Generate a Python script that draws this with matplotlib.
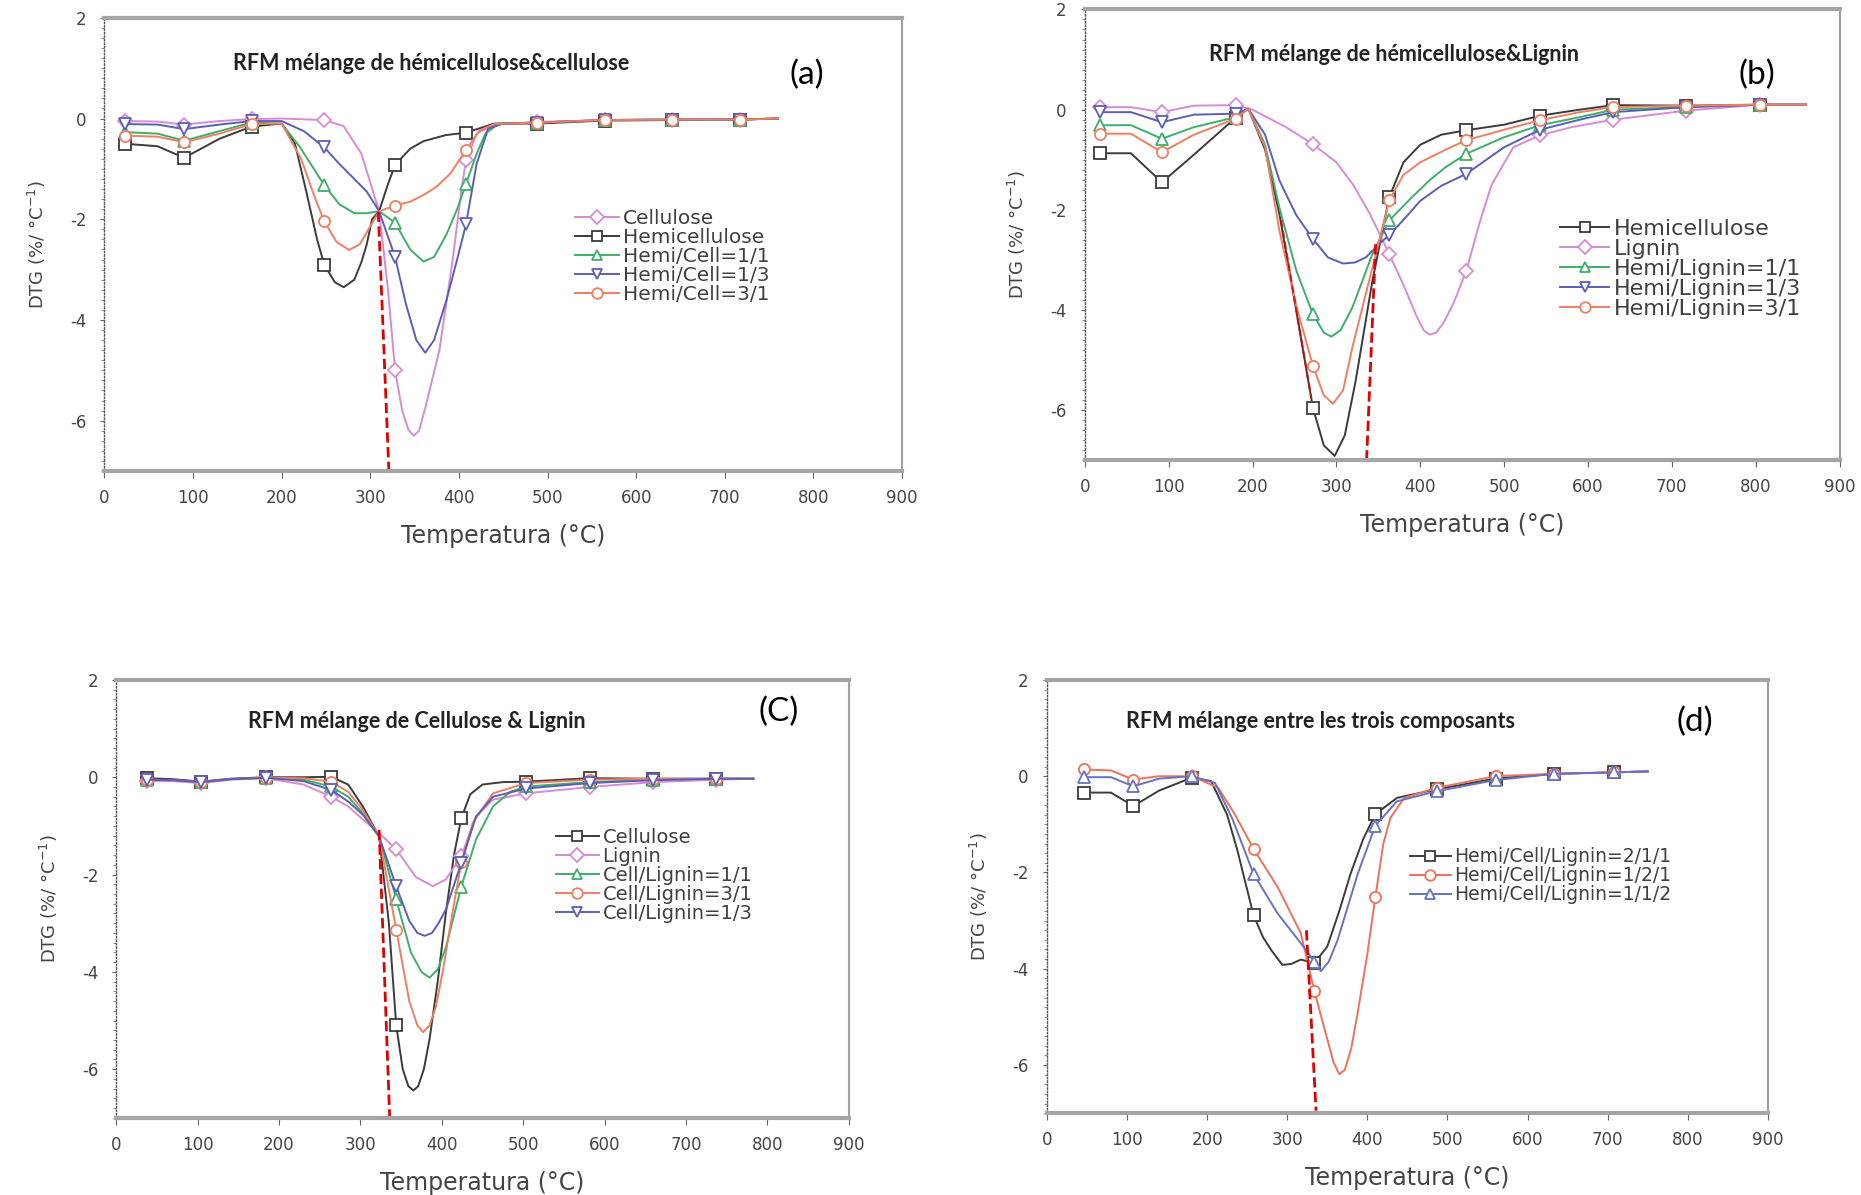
import matplotlib.pyplot as plt
from matplotlib.ticker import MultipleLocator

plt.rcParams['axes.unicode_minus'] = False

# ---------------------------------------------------------------- (a) hemicellulose & cellulose
a_marks = [23, 90, 166, 248, 328, 408, 488, 565, 640, 717]

a_cel_x = [23, 60, 90, 130, 166, 200, 248, 270, 290, 310, 320, 328, 336, 343, 349, 355, 362, 378, 393, 403, 408, 420, 440, 488, 565, 640, 717, 760]
a_cel_y = [-0.05, -0.06, -0.12, -0.05, -0.01, 0.0, -0.03, -0.15, -0.7, -1.84, -3.4, -5.0, -5.8, -6.18, -6.3, -6.2, -5.75, -4.6, -2.8, -1.4, -0.83, -0.3, -0.12, -0.07, -0.03, -0.02, -0.02, 0.0]

a_hem_x = [23, 60, 90, 130, 166, 200, 215, 227, 240, 248, 260, 270, 282, 290, 296, 302, 310, 320, 328, 345, 360, 385, 408, 440, 488, 565, 640, 717, 760]
a_hem_y = [-0.5, -0.55, -0.78, -0.4, -0.16, -0.1, -0.5, -1.39, -2.4, -2.9, -3.25, -3.35, -3.2, -2.85, -2.5, -2.0, -1.84, -1.3, -0.92, -0.6, -0.45, -0.33, -0.28, -0.1, -0.1, -0.04, -0.03, -0.02, 0.0]

a_11_x = [23, 60, 90, 130, 166, 200, 220, 248, 265, 282, 296, 310, 328, 345, 360, 372, 386, 398, 408, 420, 430, 445, 488, 565, 640, 717, 760]
a_11_y = [-0.27, -0.3, -0.44, -0.25, -0.08, -0.1, -0.55, -1.32, -1.7, -1.88, -1.88, -1.84, -2.07, -2.6, -2.84, -2.75, -2.3, -1.8, -1.3, -0.7, -0.3, -0.1, -0.08, -0.03, -0.02, -0.02, 0.0]

a_13_x = [23, 60, 90, 130, 166, 200, 225, 248, 265, 282, 296, 310, 328, 340, 352, 362, 372, 386, 398, 408, 420, 433, 450, 488, 565, 640, 717, 760]
a_13_y = [-0.11, -0.12, -0.21, -0.12, -0.05, -0.05, -0.25, -0.57, -0.9, -1.2, -1.45, -1.84, -2.75, -3.67, -4.4, -4.65, -4.4, -3.6, -2.8, -2.1, -0.9, -0.2, -0.1, -0.08, -0.03, -0.02, -0.02, 0.0]

a_31_x = [23, 60, 90, 130, 166, 200, 222, 236, 248, 262, 276, 288, 298, 310, 328, 345, 360, 375, 390, 408, 423, 440, 488, 565, 640, 717, 760]
a_31_y = [-0.34, -0.36, -0.47, -0.3, -0.11, -0.1, -0.8, -1.5, -2.04, -2.45, -2.61, -2.5, -2.2, -1.84, -1.73, -1.65, -1.52, -1.35, -1.1, -0.63, -0.24, -0.11, -0.08, -0.03, -0.02, -0.02, 0.0]

a_tan_x = [309, 321]
a_tan_y = [-1.85, -7.0]

# ---------------------------------------------------------------- (b) hemicellulose & lignin
b_marks = [18, 92, 180, 272, 363, 455, 543, 630, 717, 805]

b_hem_x = [18, 55, 92, 130, 180, 195, 215, 232, 250, 272, 285, 298, 310, 323, 343, 363, 380, 400, 425, 455, 500, 543, 590, 630, 717, 805, 860]
b_hem_y = [-0.87, -0.87, -1.45, -0.9, -0.16, 0.02, -0.8, -2.08, -3.8, -5.95, -6.7, -6.91, -6.5, -5.41, -3.41, -1.75, -1.05, -0.7, -0.5, -0.41, -0.3, -0.12, 0.0, 0.09, 0.08, 0.1, 0.1]

b_lig_x = [18, 55, 92, 130, 180, 200, 240, 272, 300, 320, 340, 363, 380, 395, 404, 411, 419, 428, 440, 455, 470, 485, 511, 543, 580, 630, 717, 805, 860]
b_lig_y = [0.05, 0.05, -0.05, 0.08, 0.09, 0.0, -0.35, -0.69, -1.05, -1.5, -2.08, -2.88, -3.5, -4.1, -4.4, -4.49, -4.45, -4.25, -3.85, -3.21, -2.3, -1.5, -0.75, -0.51, -0.35, -0.2, -0.02, 0.1, 0.1]

b_11_x = [18, 55, 92, 130, 180, 195, 215, 232, 252, 272, 285, 294, 305, 319, 343, 363, 390, 411, 430, 455, 500, 543, 590, 630, 717, 805, 860]
b_11_y = [-0.31, -0.31, -0.58, -0.35, -0.15, 0.02, -0.7, -1.95, -3.2, -4.08, -4.45, -4.53, -4.4, -3.95, -2.88, -2.21, -1.75, -1.41, -1.15, -0.88, -0.55, -0.31, -0.15, 0.0, 0.05, 0.1, 0.1]

b_13_x = [18, 55, 92, 130, 180, 195, 215, 232, 252, 272, 290, 308, 322, 335, 350, 363, 380, 400, 425, 455, 500, 543, 590, 630, 717, 805, 860]
b_13_y = [-0.05, -0.05, -0.25, -0.1, -0.08, 0.02, -0.5, -1.41, -2.1, -2.58, -2.95, -3.07, -3.05, -2.95, -2.7, -2.5, -2.2, -1.82, -1.52, -1.28, -0.75, -0.4, -0.2, -0.05, 0.05, 0.1, 0.1]

b_31_x = [18, 55, 92, 130, 180, 195, 215, 232, 252, 272, 285, 296, 308, 319, 343, 363, 380, 400, 430, 455, 500, 543, 590, 630, 717, 805, 860]
b_31_y = [-0.48, -0.48, -0.85, -0.5, -0.18, 0.02, -0.75, -2.41, -3.9, -5.11, -5.7, -5.87, -5.6, -4.75, -3.15, -1.81, -1.3, -1.05, -0.8, -0.61, -0.4, -0.21, -0.05, 0.05, 0.08, 0.1, 0.1]

b_tan_x = [336, 347]
b_tan_y = [-7.0, -2.6]
b_tan2_x = [234, 270]
b_tan2_y = [-2.2, -5.75]

# ---------------------------------------------------------------- (c) cellulose & lignin
c_marks = [38, 104, 184, 264, 344, 424, 504, 582, 660, 737]

c_cel_x = [38, 70, 104, 140, 184, 230, 264, 285, 303, 323, 335, 344, 352, 359, 365, 371, 378, 385, 395, 405, 415, 424, 435, 450, 475, 504, 582, 660, 737, 783]
c_cel_y = [-0.02, -0.04, -0.09, -0.03, 0.0, 0.0, 0.01, -0.15, -0.6, -1.22, -3.0, -5.1, -6.0, -6.35, -6.44, -6.35, -6.0, -5.38, -4.2, -2.79, -1.6, -0.84, -0.35, -0.15, -0.1, -0.09, -0.02, -0.03, -0.03, -0.03]

c_lig_x = [38, 70, 104, 140, 184, 230, 264, 285, 303, 323, 344, 368, 389, 405, 424, 442, 463, 504, 582, 660, 737, 783]
c_lig_y = [-0.08, -0.08, -0.12, -0.05, -0.02, -0.15, -0.4, -0.6, -0.87, -1.15, -1.48, -2.05, -2.24, -2.1, -1.62, -0.81, -0.46, -0.33, -0.2, -0.1, -0.05, -0.03]

c_11_x = [38, 70, 104, 140, 184, 230, 264, 285, 303, 323, 344, 362, 375, 385, 395, 405, 424, 442, 463, 484, 504, 582, 660, 737, 783]
c_11_y = [-0.05, -0.06, -0.1, -0.04, -0.01, -0.05, -0.19, -0.4, -0.74, -1.22, -2.51, -3.6, -4.0, -4.12, -3.95, -3.5, -2.25, -1.28, -0.6, -0.3, -0.19, -0.1, -0.05, -0.03, -0.03]

c_31_x = [38, 70, 104, 140, 184, 230, 264, 285, 303, 323, 344, 360, 370, 377, 385, 393, 401, 412, 424, 438, 463, 504, 582, 660, 737, 783]
c_31_y = [-0.05, -0.06, -0.1, -0.04, -0.01, -0.02, -0.09, -0.3, -0.67, -1.22, -3.13, -4.6, -5.1, -5.24, -5.1, -4.7, -4.01, -2.9, -1.75, -0.94, -0.33, -0.12, -0.05, -0.03, -0.03, -0.03]

c_13_x = [38, 70, 104, 140, 184, 230, 264, 285, 303, 323, 344, 360, 370, 379, 388, 396, 405, 424, 442, 463, 504, 582, 660, 737, 783]
c_13_y = [-0.05, -0.06, -0.1, -0.04, -0.01, -0.08, -0.26, -0.5, -0.77, -1.22, -2.24, -2.95, -3.2, -3.26, -3.2, -3.0, -2.72, -1.76, -0.81, -0.4, -0.23, -0.12, -0.06, -0.03, -0.03]

c_tan_x = [323, 336]
c_tan_y = [-1.08, -7.0]

# ---------------------------------------------------------------- (d) three components
d_marks = [46, 108, 181, 258, 334, 410, 487, 560, 633, 708]

d_211_x = [46, 80, 108, 140, 181, 205, 225, 238, 258, 270, 280, 294, 305, 317, 334, 350, 365, 379, 395, 410, 437, 487, 560, 633, 708, 750]
d_211_y = [-0.34, -0.34, -0.62, -0.3, -0.03, -0.1, -0.8, -1.55, -2.89, -3.35, -3.61, -3.92, -3.9, -3.81, -3.88, -3.54, -2.8, -2.03, -1.3, -0.79, -0.45, -0.27, -0.05, 0.05, 0.08, 0.1]

d_121_x = [46, 80, 108, 140, 181, 214, 235, 258, 288, 317, 334, 350, 358, 365, 372, 380, 388, 400, 410, 420, 429, 446, 487, 560, 633, 708, 750]
d_121_y = [0.14, 0.12, -0.07, 0.0, 0.0, -0.24, -0.8, -1.51, -2.3, -3.26, -4.47, -5.46, -5.95, -6.19, -6.1, -5.65, -4.91, -3.7, -2.51, -1.4, -0.86, -0.45, -0.24, 0.0, 0.05, 0.08, 0.1]

d_112_x = [46, 80, 108, 140, 181, 210, 232, 258, 288, 317, 334, 342, 352, 363, 388, 410, 437, 487, 560, 633, 708, 750]
d_112_y = [-0.02, -0.02, -0.21, -0.05, 0.0, -0.14, -0.9, -2.03, -2.85, -3.47, -3.85, -4.05, -3.85, -3.4, -2.03, -1.03, -0.52, -0.31, -0.08, 0.05, 0.08, 0.1]

d_tan_x = [324, 336]
d_tan_y = [-3.2, -6.95]

BLACK = '#3b3b3b'
PINK = '#d78ad8'
GREEN = '#3fae6a'
BLUE = '#5a5fb5'
ORANGE = '#f07e62'
RED = '#e00000'


def curve(ax, x, y, marks, color, marker, label, ms=8):
    idx = [i for i, t in enumerate(x) if t in marks]
    ax.plot(x, y, color=color, lw=1.4, marker=marker, ms=ms, mfc='white',
            mec=color, mew=1.3, markevery=idx, label=label)


def frame(ax, title, title_xy, letter, letter_xy):
    ax.set_xlim(0, 900)
    ax.set_ylim(-7, 2)
    ax.xaxis.set_major_locator(MultipleLocator(100))
    ax.set_yticks([2, 0, -2, -4, -6])
    ax.yaxis.set_minor_locator(MultipleLocator(0.2))
    for s in ['top', 'bottom']:
        ax.spines[s].set_color('#a5a5a5')
        ax.spines[s].set_linewidth(3)
    ax.spines['right'].set_color('#a0a0a0')
    ax.spines['right'].set_linewidth(1.5)
    ax.spines['left'].set_color('#555555')
    ax.spines['left'].set_linewidth(1.0)
    ax.spines['left'].set_linestyle((0, (1, 1.5)))
    ax.tick_params(axis='x', direction='out', length=5, color='#666666',
                   labelsize=12, labelcolor='#444444', pad=8)
    ax.tick_params(axis='y', which='major', direction='out', length=3, color='#666666',
                   labelsize=12, labelcolor='#444444', pad=10)
    ax.tick_params(axis='y', which='minor', direction='out', length=2, color='#777777')
    ax.set_xlabel('Temperatura (°C)', fontsize=17, color='#444444', labelpad=12)
    ax.set_ylabel('DTG (%/ °C$^{-1}$)', fontsize=13, color='#444444', labelpad=16)
    ax.text(title_xy[0], title_xy[1], title, transform=ax.transAxes, ha='center',
            va='center', fontsize=15.5, fontweight='bold', family='Lato', color='#222222')
    ax.text(letter_xy[0], letter_xy[1], letter, transform=ax.transAxes, ha='center',
            va='center', fontsize=24, family='Lato', color='black')


def legend(ax, anchor, size):
    ax.legend(loc='upper left', bbox_to_anchor=anchor, frameon=False, fontsize=size,
              handlelength=2.2, handletextpad=0.2, labelspacing=0.0, borderpad=0,
              numpoints=1, markerscale=0.95, labelcolor='#404040')


fig = plt.figure(figsize=(18.61, 11.95), dpi=100)

# (a)
ax = fig.add_axes([0.0561, 0.6058, 0.4286, 0.3793])
curve(ax, a_cel_x, a_cel_y, a_marks, PINK, 'D', 'Cellulose', 7)
curve(ax, a_hem_x, a_hem_y, a_marks, BLACK, 's', 'Hemicellulose')
curve(ax, a_11_x, a_11_y, a_marks, GREEN, '^', 'Hemi/Cell=1/1')
curve(ax, a_13_x, a_13_y, a_marks, BLUE, 'v', 'Hemi/Cell=1/3')
curve(ax, a_31_x, a_31_y, a_marks, ORANGE, 'o', 'Hemi/Cell=3/1')
ax.plot(a_tan_x, a_tan_y, color=RED, lw=2, ls='--')
frame(ax, 'RFM mélange de hémicellulose&cellulose', (0.409, 0.90), '(a)', (0.881, 0.874))
legend(ax, (0.577, 0.60), 14.5)

# (b)
ax = fig.add_axes([0.5829, 0.6147, 0.4056, 0.3774])
curve(ax, b_hem_x, b_hem_y, b_marks, BLACK, 's', 'Hemicellulose')
curve(ax, b_lig_x, b_lig_y, b_marks, PINK, 'D', 'Lignin', 7)
curve(ax, b_11_x, b_11_y, b_marks, GREEN, '^', 'Hemi/Lignin=1/1')
curve(ax, b_13_x, b_13_y, b_marks, BLUE, 'v', 'Hemi/Lignin=1/3')
curve(ax, b_31_x, b_31_y, b_marks, ORANGE, 'o', 'Hemi/Lignin=3/1')
ax.plot(b_tan_x, b_tan_y, color=RED, lw=2, ls='--')
ax.plot(b_tan2_x, b_tan2_y, color=RED, lw=1.5, ls='--', alpha=0.8)
frame(ax, 'RFM mélange de hémicellulose&Lignin', (0.41, 0.90), '(b)', (0.89, 0.855))
legend(ax, (0.615, 0.56), 16)

# (c)
ax = fig.add_axes([0.0625, 0.0646, 0.3935, 0.3664])
curve(ax, c_cel_x, c_cel_y, c_marks, BLACK, 's', 'Cellulose')
curve(ax, c_lig_x, c_lig_y, c_marks, PINK, 'D', 'Lignin', 7)
curve(ax, c_11_x, c_11_y, c_marks, GREEN, '^', 'Cell/Lignin=1/1')
curve(ax, c_31_x, c_31_y, c_marks, ORANGE, 'o', 'Cell/Lignin=3/1')
curve(ax, c_13_x, c_13_y, c_marks, BLUE, 'v', 'Cell/Lignin=1/3')
ax.plot(c_tan_x, c_tan_y, color=RED, lw=2, ls='--')
frame(ax, 'RFM mélange de Cellulose & Lignin', (0.41, 0.905), '(C)', (0.904, 0.927))
legend(ax, (0.587, 0.685), 14)

# (d)
ax = fig.add_axes([0.5625, 0.0685, 0.3875, 0.3625])
curve(ax, d_211_x, d_211_y, d_marks, BLACK, 's', 'Hemi/Cell/Lignin=2/1/1')
curve(ax, d_121_x, d_121_y, d_marks, '#f0705a', 'o', 'Hemi/Cell/Lignin=1/2/1')
curve(ax, d_112_x, d_112_y, d_marks, '#6673c4', '^', 'Hemi/Cell/Lignin=1/1/2')
ax.plot(d_tan_x, d_tan_y, color=RED, lw=2, ls='--')
frame(ax, 'RFM mélange entre les trois composants', (0.38, 0.904), '(d)', (0.898, 0.904))
legend(ax, (0.49, 0.635), 13.5)

fig.savefig('out.png', dpi=100)
